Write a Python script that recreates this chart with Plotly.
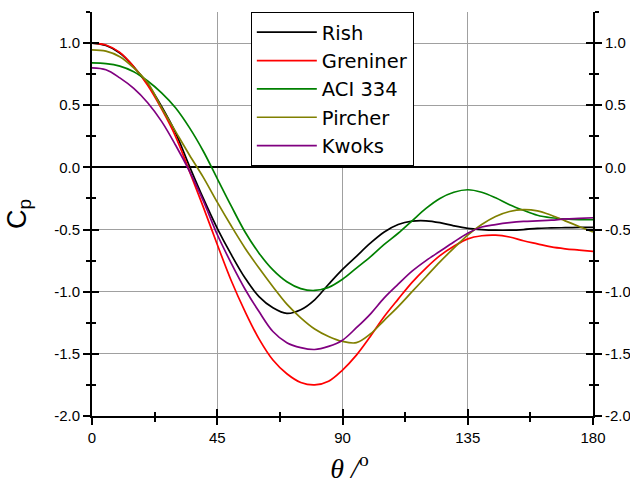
import plotly.graph_objects as go

theta = [0, 5, 10, 15, 20, 25, 30, 35, 40, 45, 50, 55, 60, 65, 70, 75, 80, 85, 90,
         95, 100, 105, 110, 115, 120, 125, 130, 135, 140, 145, 150, 155, 160, 165, 170, 175, 180]

rish = [1.00, 0.98, 0.92, 0.81, 0.67, 0.49, 0.28, 0.01, -0.25, -0.49, -0.70, -0.89, -1.04, -1.13, -1.175,
        -1.145, -1.065, -0.94, -0.82, -0.715, -0.61, -0.52, -0.46, -0.433, -0.43, -0.445, -0.47, -0.49,
        -0.50, -0.505, -0.505, -0.50, -0.49, -0.487, -0.485, -0.483, -0.483]

greniner = [1.00, 0.985, 0.925, 0.81, 0.66, 0.47, 0.25, -0.03, -0.32, -0.62, -0.91, -1.16, -1.38, -1.55,
            -1.66, -1.73, -1.75, -1.72, -1.63, -1.51, -1.36, -1.20, -1.06, -0.925, -0.81, -0.71, -0.635,
            -0.575, -0.55, -0.545, -0.56, -0.59, -0.615, -0.64, -0.655, -0.665, -0.675]

aci334 = [0.84, 0.835, 0.815, 0.77, 0.695, 0.60, 0.48, 0.32, 0.13, -0.09, -0.31, -0.52, -0.69, -0.825,
          -0.92, -0.975, -0.99, -0.965, -0.90, -0.81, -0.72, -0.62, -0.53, -0.43, -0.33, -0.25, -0.20,
          -0.18, -0.20, -0.245, -0.30, -0.345, -0.385, -0.405, -0.415, -0.42, -0.42]

pircher = [0.945, 0.935, 0.89, 0.80, 0.68, 0.48, 0.29, 0.10, -0.08, -0.28, -0.47, -0.65, -0.81, -0.96,
           -1.10, -1.21, -1.30, -1.36, -1.40, -1.41, -1.34, -1.23, -1.12, -1.00, -0.88, -0.76, -0.65,
           -0.545, -0.46, -0.395, -0.355, -0.34, -0.35, -0.385, -0.43, -0.475, -0.52]

kwoks = [0.80, 0.785, 0.72, 0.635, 0.52, 0.37, 0.18, -0.03, -0.27, -0.54, -0.77, -0.98, -1.16, -1.32,
         -1.41, -1.45, -1.465, -1.44, -1.39, -1.29, -1.18, -1.05, -0.94, -0.835, -0.75, -0.675, -0.60,
         -0.53, -0.48, -0.46, -0.445, -0.435, -0.43, -0.425, -0.415, -0.41, -0.405]

series_names = ["Rish", "Greniner", "ACI 334", "Pircher", "Kwoks"]
series_values = [rish, greniner, aci334, pircher, kwoks]
series_colors = ["#000000", "#FF0000", "#008000", "#808000", "#800080"]

x_ticks = [0, 45, 90, 135, 180]
y_ticks = [1.0, 0.5, 0.0, -0.5, -1.0, -1.5, -2.0]
y_labels = ["1.0", "0.5", "0.0", "-0.5", "-1.0", "-1.5", "-2.0"]

XR = [0, 180]
YR = [-2.0, 1.25]
FONT = "Arial, Liberation Sans, sans-serif"

fig = go.Figure()
for name, vals, col in zip(series_names, series_values, series_colors):
    fig.add_trace(go.Scatter(x=theta, y=vals, name=name, mode="lines",
                             line=dict(color=col, width=1.7, shape="spline", smoothing=1.0),
                             hoverinfo="skip"))

# dummy traces to register overlay axes (used for crossing ticks / right axis)
fig.add_trace(go.Scatter(x=[None], y=[None], xaxis="x2", yaxis="y", showlegend=False))
fig.add_trace(go.Scatter(x=[None], y=[None], xaxis="x", yaxis="y2", showlegend=False))
fig.add_trace(go.Scatter(x=[None], y=[None], xaxis="x", yaxis="y3", showlegend=False))
fig.add_trace(go.Scatter(x=[None], y=[None], xaxis="x", yaxis="y4", showlegend=False))

tickfont = dict(family=FONT, size=15, color="#000000")
minor_x = dict(dtick=22.5, ticklen=4, tickwidth=2, tickcolor="#000", ticks="outside", showgrid=False)
minor_y = dict(dtick=0.25, ticklen=4, tickwidth=2, tickcolor="#000", ticks="outside", showgrid=False)

fig.update_layout(
    width=630, height=484,
    margin=dict(l=92, r=37, t=12, b=68),
    paper_bgcolor="white", plot_bgcolor="white",
    showlegend=True,
    legend=dict(x=0.317, y=1.0, xanchor="left", yanchor="top",
                bgcolor="white", bordercolor="#000000", borderwidth=1,
                font=dict(family="DejaVu Sans, sans-serif", size=19.5, color="#000"),
                itemwidth=60, tracegroupgap=0),
    xaxis=dict(range=XR, tickvals=x_ticks, ticktext=[str(v) for v in x_ticks],
               ticks="outside", ticklen=7, tickwidth=2, tickcolor="#000",
               showline=True, linecolor="#000", linewidth=2, automargin=False,
               showgrid=True, gridcolor="#A0A0A0", gridwidth=1, zeroline=False,
               tickfont=tickfont, minor=minor_x,
               title=dict(text="&#160;&#160;<i>θ /</i><sup>o</sup>",
                          font=dict(family="Liberation Serif, Times New Roman, serif", size=28,
                                    color="#000"),
                          standoff=16)),
    xaxis2=dict(range=XR, overlaying="x", anchor="y", side="bottom", automargin=False,
                tickvals=x_ticks, ticks="inside", ticklen=7, tickwidth=2, tickcolor="#000",
                showticklabels=False, showgrid=False, zeroline=False, showline=False,
                minor=dict(dtick=22.5, ticklen=4, tickwidth=2, tickcolor="#000", ticks="inside",
                           showgrid=False)),
    yaxis=dict(range=YR, tickvals=y_ticks, ticktext=y_labels,
               ticks="outside", ticklen=7, tickwidth=2, tickcolor="#000",
               showline=True, linecolor="#000", linewidth=2, automargin=False,
               showgrid=True, gridcolor="#A0A0A0", gridwidth=1,
               zeroline=True, zerolinecolor="#000", zerolinewidth=1.5,
               tickfont=tickfont, minor=minor_y,
               title=dict(text="C<sub>p</sub>", font=dict(family=FONT, size=27, color="#000"),
                          standoff=20)),
    yaxis2=dict(range=YR, overlaying="y", anchor="x", side="left", automargin=False,
                tickvals=y_ticks, ticks="inside", ticklen=7, tickwidth=2, tickcolor="#000",
                showticklabels=False, showgrid=False, zeroline=False, showline=False,
                minor=dict(dtick=0.25, ticklen=4, tickwidth=2, tickcolor="#000", ticks="inside",
                           showgrid=False)),
    yaxis3=dict(range=YR, overlaying="y", anchor="x", side="right", automargin=False,
                tickvals=y_ticks, ticktext=y_labels, tickfont=tickfont,
                ticks="outside", ticklen=7, tickwidth=2, tickcolor="#000",
                showline=True, linecolor="#000", linewidth=2,
                showgrid=False, zeroline=False, minor=minor_y),
    yaxis4=dict(range=YR, overlaying="y", anchor="x", side="right", automargin=False,
                tickvals=y_ticks, ticks="inside", ticklen=7, tickwidth=2, tickcolor="#000",
                showticklabels=False, showgrid=False, zeroline=False, showline=False,
                minor=dict(dtick=0.25, ticklen=4, tickwidth=2, tickcolor="#000", ticks="inside",
                           showgrid=False)),
)

fig.write_html("out.html")
